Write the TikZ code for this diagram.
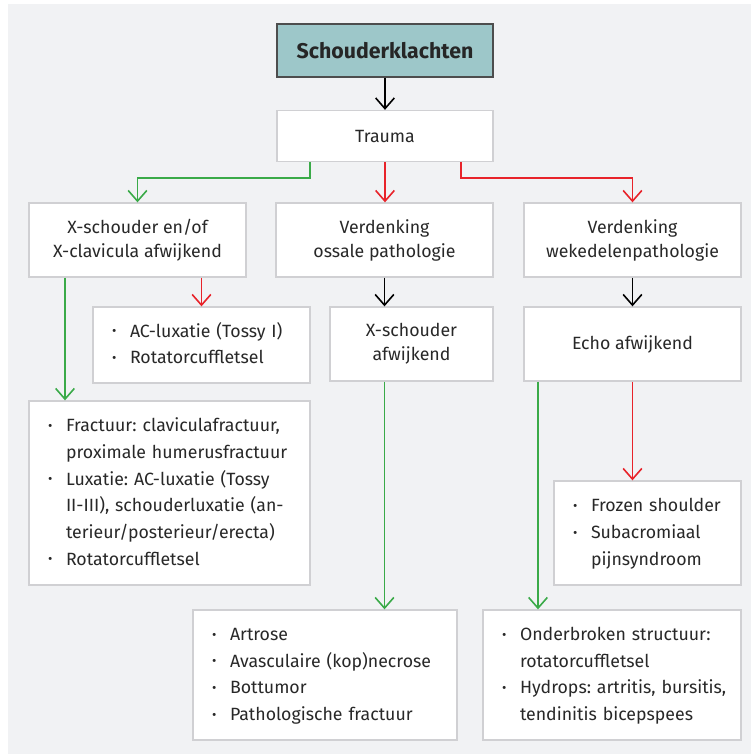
\documentclass[tikz,border=0pt]{standalone}
\usepackage{fontspec}
\setmainfont{Fira Sans}
\usetikzlibrary{arrows.meta,calc}
\frenchspacing

\definecolor{bggray}{RGB}{241,242,244}
\definecolor{boxline}{RGB}{208,208,211}
\definecolor{titlefill}{RGB}{157,199,201}
\definecolor{titleline}{RGB}{77,77,77}
\definecolor{txt}{RGB}{40,40,40}
\definecolor{grn}{RGB}{58,170,72}
\definecolor{rd}{RGB}{232,35,42}

\newcommand{\bul}{\makebox[13.5pt][l]{\raisebox{1pt}{\fontsize{10}{10}\selectfont\textbullet}}}

\tikzset{
  box/.style={draw=boxline, line width=1pt, fill=white, inner sep=0pt, align=center,
    text=txt, font=\fontsize{13.3}{18}\selectfont},
  listbox/.style={box, align=left, inner xsep=14.25pt, font=\fontsize{13.3}{20}\selectfont},
  arr/.style={line width=1.2pt, -{Straight Barb[length=8pt,width=14pt]}},
}

\begin{document}
\begin{tikzpicture}[x=0.75pt,y=0.75pt,yscale=-1]
\useasboundingbox (0,0) rectangle (751,754);
\fill[bggray] (8,4) rectangle (751,754);

%Top
\node[box, draw=titleline, fill=titlefill, line width=1.2pt, minimum width=162pt, minimum height=39.75pt,
  font=\fontsize{16}{18}\selectfont\bfseries, text=black!85] (title) at (385,50.5) {Schouderklachten};
\node[box, minimum width=162pt, minimum height=38.25pt] (trauma) at (385,136) {Trauma};

%Second row
\node[box, minimum width=162.75pt, minimum height=55.5pt] (xray) at (137.5,240) {X-schouder en/of\\X-clavicula afwijkend};
\node[box, minimum width=162.75pt, minimum height=55.5pt] (ossaal) at (384.5,240) {Verdenking\\ossale pathologie};
\node[box, minimum width=162.75pt, minimum height=55.5pt] (weke) at (632.5,240) {Verdenking\\wekedelenpathologie};

%Third row
\node[listbox, text width=134.25pt, minimum height=57pt] (acl) at (201.5,345) {\begin{tabular}{@{}l@{}l@{}}
\bul & AC-luxatie (Tossy I)\\
\bul & Rotatorcuffletsel
\end{tabular}};
\node[box, minimum width=122.25pt, minimum height=55.5pt] (xafw) at (411.5,344) {X-schouder\\afwijkend};
\node[box, minimum width=162.75pt, minimum height=55.5pt] (echo) at (632.5,344) {Echo afwijkend};

%Lower boxes
\node[listbox, text width=182.25pt, minimum height=138pt] (fract) at (169.5,493) {\begin{tabular}{@{}l@{}l@{}}
\bul & Fractuur: claviculafractuur,\\
 & proximale humerusfractuur\\
\bul & Luxatie: AC-luxatie (Tossy\\
 & II-III), schouderluxatie (an-\\
 & terieur/posterieur/erecta)\\
\bul & Rotatorcuffletsel
\end{tabular}};
\node[listbox, text width=111.75pt, minimum height=78pt] (frozen) at (647.5,533) {\begin{tabular}{@{}l@{}l@{}}
\bul & Frozen shoulder\\
\bul & Subacromiaal\\
 & pijnsyndroom
\end{tabular}};
\node[listbox, text width=169.5pt, minimum height=97.5pt] (artrose) at (325,675) {\begin{tabular}{@{}l@{}l@{}}
\bul & Artrose\\
\bul & Avasculaire (kop)necrose\\
\bul & Bottumor\\
\bul & Pathologische fractuur
\end{tabular}};
\node[listbox, text width=165pt, minimum height=97.5pt] (onder) at (612,675) {\begin{tabular}{@{}l@{}l@{}}
\bul & Onderbroken structuur:\\
 & rotatorcuffletsel\\
\bul & Hydrops: artritis, bursitis,\\
 & tendinitis bicepspees
\end{tabular}};

%Arrows
\draw[arr] (title) -- (trauma);
\coordinate (tg) at ($(trauma.south)+(-75,0)$);
\coordinate (tr) at ($(trauma.south)+(76,0)$);
\draw[arr,grn] (tg) -- ++(0,16) -| (xray.north);
\draw[arr,rd] (trauma.south) -- (trauma.south |- ossaal.north);
\draw[arr,rd] (tr) -- ++(0,16) -| (weke.north);

\coordinate (xg) at ($(xray.south)+(-72.5,0)$);
\draw[arr,grn] (xg) -- (xg |- fract.north);
\draw[arr,rd] (acl.north |- xray.south) -- (acl.north);

\draw[arr] (ossaal.south) -- (ossaal.south |- xafw.north);
\draw[arr,grn] (ossaal.south |- xafw.south) -- (ossaal.south |- artrose.north);

\draw[arr] (weke) -- (echo);
\coordinate (eg) at ($(echo.south)+(-94.5,0)$);
\draw[arr,grn] (eg) -- (eg |- onder.north);
\draw[arr,rd] (echo.south) -- (echo.south |- frozen.north);

\end{tikzpicture}
\end{document}
